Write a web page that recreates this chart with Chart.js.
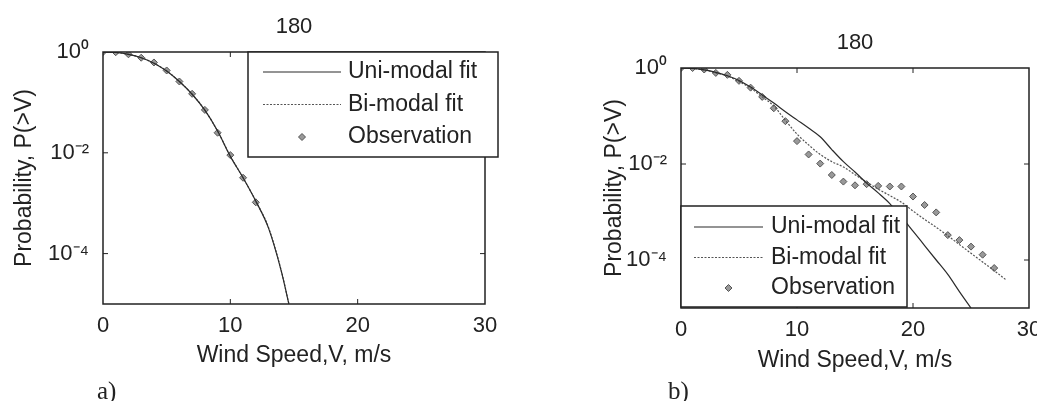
<!DOCTYPE html>
<html>
<head>
    <meta charset="UTF-8">
    <title>Wind speed exceedance probability, 180</title>
    <script src="https://cdn.jsdelivr.net/npm/chart.js"></script>
    <style>
        body {
            margin: 0;
            width: 1037px;
            height: 401px;
            overflow: hidden;
            position: relative;
            background: #fff;
        }
        #box-a {
            position: absolute;
            left: 0;
            top: 0;
            width: 518px;
            height: 401px;
        }
        #box-b {
            position: absolute;
            left: 518px;
            top: 0;
            width: 545px;
            height: 401px;
        }
        .tag {
            position: absolute;
            font-family: "Liberation Serif", serif;
            font-size: 25px;
            line-height: 25px;
            color: #222;
        }
    </style>
</head>
<body>
<div id="box-a"><canvas id="chart-a"></canvas></div>
<div id="box-b"><canvas id="chart-b"></canvas></div>
<div class="tag" style="left:97px; top:378px;">a)</div>
<div class="tag" style="left:668px; top:378px;">b)</div>

<script>
    // eksen etiketleri
    const chartTitle = '180';
    const xTitle = 'Wind Speed,V, m/s';
    const yTitle = 'Probability, P(>V)';
    const seriesNames = ['Uni-modal fit', 'Bi-modal fit', 'Observation'];
    const xTickValues = [0, 10, 20, 30];
    const yTickValues = [1, 1e-2, 1e-4];
    const yTickLabels = ['10\u2070', '10\u207B\u00B2', '10\u207B\u2074'];

    // a) grafigi
    const fitSpeedA = [0, 1, 2, 3, 4, 5, 6, 7, 8, 9, 10, 11, 12, 13, 14, 14.6];
    const uniProbA = [1, 0.98, 0.9, 0.77, 0.6, 0.42, 0.26, 0.145, 0.07, 0.027, 0.0085, 0.0032, 0.0011, 0.00032, 0.000045, 0.00001];
    const biProbA = [1, 0.98, 0.9, 0.77, 0.6, 0.42, 0.26, 0.146, 0.07, 0.027, 0.0086, 0.0032, 0.0011, 0.00033, 0.000046, 0.00001];
    const obsSpeedA = [0, 1, 2, 3, 4, 5, 6, 7, 8, 9, 10, 11, 12];
    const obsProbA = [1, 0.99, 0.9, 0.77, 0.62, 0.43, 0.26, 0.148, 0.071, 0.025, 0.009, 0.0032, 0.00104];

    // b) grafigi
    const uniSpeedB = [0, 1, 2, 3, 4, 5, 6, 7, 8, 9, 10, 11, 12, 13, 14, 15, 16, 17, 18, 19, 20, 21, 22, 23, 24, 25];
    const uniProbB = [1, 0.98, 0.91, 0.81, 0.69, 0.55, 0.4, 0.275, 0.186, 0.123, 0.083, 0.056, 0.037, 0.02, 0.0112, 0.0068, 0.004, 0.0025, 0.0015, 0.00079, 0.0004, 0.0002, 0.0001, 0.00005, 0.000022, 0.00001];
    const biSpeedB = [0, 1, 2, 3, 4, 5, 6, 7, 8, 9, 10, 11, 12, 13, 14, 15, 16, 17, 18, 19, 20, 21, 22, 23, 24, 25, 26, 27, 28];
    const biProbB = [1, 0.98, 0.91, 0.79, 0.68, 0.52, 0.38, 0.25, 0.162, 0.081, 0.042, 0.025, 0.0158, 0.0112, 0.0087, 0.006, 0.0042, 0.003, 0.0022, 0.0016, 0.00105, 0.0007, 0.00048, 0.00032, 0.00021, 0.000138, 0.000091, 0.00006, 0.000039];
    const obsSpeedB = [0, 1, 2, 3, 4, 5, 6, 7, 8, 9, 10, 11, 12, 13, 14, 15, 16, 17, 18, 19, 20, 21, 22, 23, 24, 25, 26, 27];
    const obsProbB = [1, 1, 0.93, 0.79, 0.72, 0.54, 0.39, 0.25, 0.145, 0.078, 0.03, 0.0158, 0.0102, 0.0059, 0.0043, 0.0036, 0.0038, 0.0035, 0.0034, 0.0034, 0.0021, 0.0014, 0.00098, 0.00033, 0.00026, 0.00019, 0.000129, 0.000068];

    const ink = '#222';
    const fontName = '"Liberation Sans", Arial, sans-serif';

    function pairs(xs, ys) {
        return xs.map((v, i) => ({ x: v, y: ys[i] }));
    }

    // cerceve ve ice dogru kisa cizgiler
    const framePlugin = {
        id: 'frame',
        afterDatasetsDraw(chart) {
            const { ctx, chartArea: a, scales: { x, y } } = chart;
            ctx.save();
            ctx.strokeStyle = ink;
            ctx.lineWidth = 1.5;
            ctx.strokeRect(a.left, a.top, a.right - a.left, a.bottom - a.top);
            ctx.lineWidth = 1;
            ctx.beginPath();
            x.ticks.forEach(t => {
                const px = x.getPixelForValue(t.value);
                if (px <= a.left + 1 || px >= a.right - 1) return;
                ctx.moveTo(px, a.bottom); ctx.lineTo(px, a.bottom - 5);
                ctx.moveTo(px, a.top); ctx.lineTo(px, a.top + 5);
            });
            y.ticks.forEach(t => {
                const py = y.getPixelForValue(t.value);
                if (py <= a.top + 1 || py >= a.bottom - 1) return;
                ctx.moveTo(a.left, py); ctx.lineTo(a.left + 5, py);
                ctx.moveTo(a.right, py); ctx.lineTo(a.right - 5, py);
            });
            ctx.stroke();
            ctx.restore();
        }
    };

    // grafik icindeki kutulu lejant
    const boxLegendPlugin = {
        id: 'boxLegend',
        afterDraw(chart, args, opts) {
            const ctx = chart.ctx;
            ctx.save();
            ctx.fillStyle = '#fff';
            ctx.fillRect(opts.left, opts.top, opts.width, opts.height);
            ctx.strokeStyle = ink;
            ctx.lineWidth = 1.5;
            ctx.strokeRect(opts.left, opts.top, opts.width, opts.height);
            ctx.font = '23px ' + fontName;
            ctx.textBaseline = 'middle';
            chart.data.datasets.forEach((ds, i) => {
                const rowY = opts.top + opts.firstRow + i * opts.rowGap;
                if (ds.showLine) {
                    ctx.strokeStyle = ds.borderColor;
                    ctx.lineWidth = ds.borderWidth;
                    ctx.setLineDash(ds.borderDash || []);
                    ctx.beginPath();
                    ctx.moveTo(opts.lineFrom, rowY);
                    ctx.lineTo(opts.lineTo, rowY);
                    ctx.stroke();
                    ctx.setLineDash([]);
                } else {
                    ctx.fillStyle = ds.backgroundColor;
                    ctx.strokeStyle = ds.borderColor;
                    ctx.lineWidth = ds.borderWidth;
                    Chart.helpers.drawPoint(ctx, {
                        pointStyle: ds.pointStyle,
                        radius: ds.pointRadius,
                        borderWidth: ds.borderWidth,
                        rotation: 0
                    }, (opts.lineFrom + opts.lineTo) / 2, rowY);
                }
                ctx.fillStyle = ink;
                ctx.fillText(ds.label, opts.textX, rowY);
            });
            ctx.restore();
        }
    };

    function makeDatasets(uni, bi, obs) {
        return [{
            label: seriesNames[0],
            data: uni,
            showLine: true,
            borderColor: '#2a2a2a',
            borderWidth: 1.2,
            pointRadius: 0,
            cubicInterpolationMode: 'monotone'
        }, {
            label: seriesNames[1],
            data: bi,
            showLine: true,
            borderColor: '#555',
            borderWidth: 1.2,
            borderDash: [2, 1.5],
            pointRadius: 0,
            cubicInterpolationMode: 'monotone'
        }, {
            label: seriesNames[2],
            data: obs,
            showLine: false,
            pointStyle: 'rectRot',
            pointRadius: 3.5,
            backgroundColor: '#999',
            borderColor: '#555',
            borderWidth: 1
        }];
    }

    function makeConfig(datasets, lay) {
        return {
            type: 'scatter',
            data: { datasets: datasets },
            plugins: [framePlugin, boxLegendPlugin],
            options: {
                responsive: true,
                maintainAspectRatio: false,
                animation: false,
                layout: { padding: lay.padding },
                plugins: {
                    legend: { display: false },
                    tooltip: { enabled: false },
                    title: {
                        display: true,
                        text: chartTitle,
                        fullSize: false,
                        color: ink,
                        font: { family: fontName, size: 22, weight: 'normal' },
                        padding: { top: 4, bottom: 11.6 }
                    },
                    boxLegend: lay.legend
                },
                scales: {
                    x: {
                        type: 'linear',
                        min: 0,
                        max: 30,
                        afterBuildTicks: s => { s.ticks = xTickValues.map(v => ({ value: v })); },
                        afterFit: s => { s.height = 70; },
                        grid: { display: false, drawTicks: false },
                        border: { display: false },
                        ticks: {
                            color: ink,
                            padding: 9,
                            maxRotation: 0,
                            font: { family: fontName, size: 22 }
                        },
                        title: {
                            display: true,
                            text: xTitle,
                            color: ink,
                            font: { family: fontName, size: 23 },
                            padding: { top: 0, bottom: lay.xTitlePad }
                        }
                    },
                    y: {
                        type: 'logarithmic',
                        min: 1e-5,
                        max: 1,
                        afterBuildTicks: s => { s.ticks = yTickValues.map(v => ({ value: v })); },
                        afterFit: s => { s.width = lay.yWidth; },
                        grid: { display: false, drawTicks: false },
                        border: { display: false },
                        ticks: {
                            color: ink,
                            padding: 14,
                            font: { family: fontName, size: 22 },
                            callback: (v) => yTickLabels[yTickValues.indexOf(v)]
                        },
                        title: {
                            display: true,
                            text: yTitle,
                            color: ink,
                            font: { family: fontName, size: 23 },
                            padding: { top: lay.yTitlePad, bottom: 0 }
                        }
                    }
                }
            }
        };
    }

    const chartA = new Chart(document.getElementById('chart-a'), makeConfig(
        makeDatasets(pairs(fitSpeedA, uniProbA), pairs(fitSpeedA, biProbA), pairs(obsSpeedA, obsProbA)),
        {
            padding: { left: 0, right: 33, top: 10, bottom: 27 },
            yWidth: 103,
            yTitlePad: 11,
            xTitlePad: 5,
            legend: { left: 248, top: 52, width: 250, height: 105, firstRow: 20, rowGap: 32.5, lineFrom: 263, lineTo: 341, textX: 348 }
        }
    ));

    const chartB = new Chart(document.getElementById('chart-b'), makeConfig(
        makeDatasets(pairs(uniSpeedB, uniProbB), pairs(biSpeedB, biProbB), pairs(obsSpeedB, obsProbB)),
        {
            padding: { left: 0, right: 34, top: 26, bottom: 23 },
            yWidth: 163,
            yTitlePad: 83,
            xTitlePad: 4,
            legend: { left: 163, top: 206, width: 226, height: 101, firstRow: 21, rowGap: 30.5, lineFrom: 176, lineTo: 245, textX: 253 }
        }
    ));
</script>
</body>
</html>
